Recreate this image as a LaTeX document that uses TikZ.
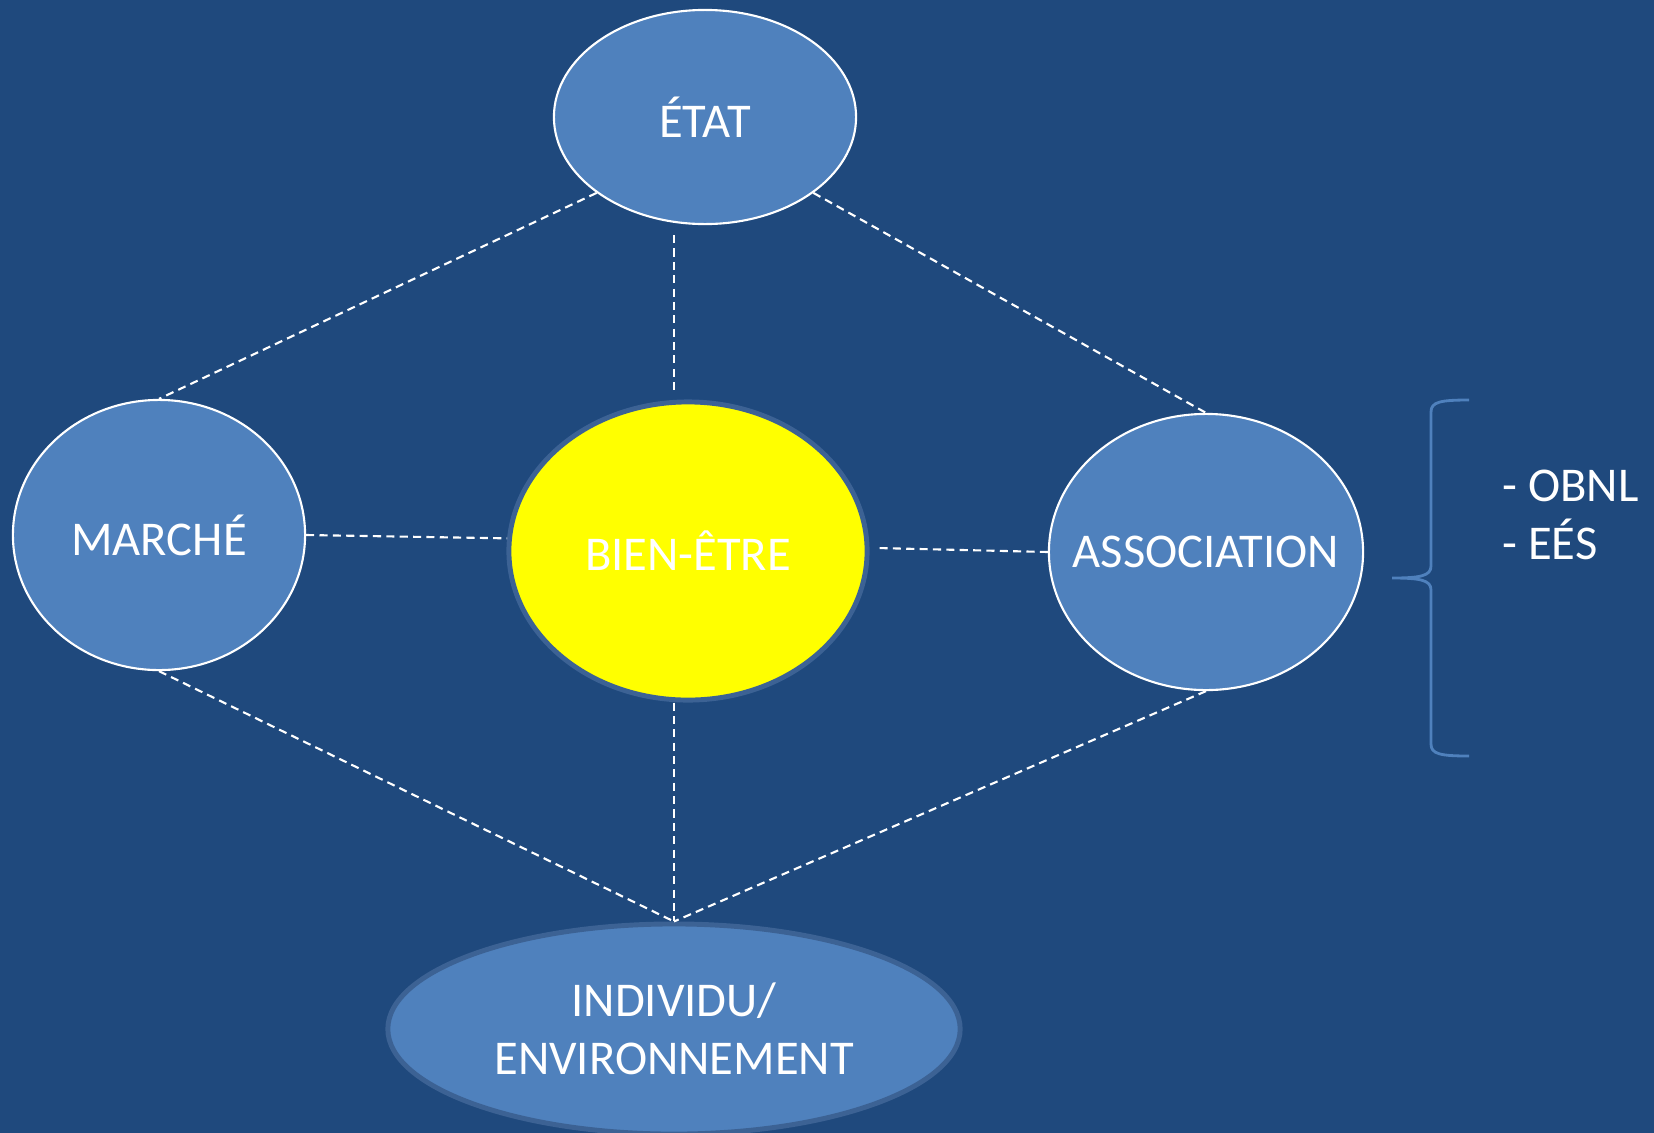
\documentclass[tikz,border=0pt]{standalone}
\usepackage{fontspec}
\setmainfont{Carlito}
\usepackage{xcolor}
\usepackage{tikz}
\usetikzlibrary{shapes.geometric,calc}
\definecolor{slide}{RGB}{31,73,125}
\definecolor{sectorblue}{RGB}{79,129,189}
\definecolor{rimblue}{RGB}{60,98,148}
\definecolor{sun}{RGB}{255,255,0}
\tikzset{
  sector/.style={ellipse, draw=white, line width=0.6pt, fill=sectorblue, inner sep=0pt, text=white, font=\fontsize{13.8}{16.4}\selectfont, align=center},
  core/.style={sector, draw=rimblue, line width=1.4pt}, % thicker soft rim
  link/.style={draw=white, line width=0.6pt, dash pattern=on 2.3pt off 1.5pt},
  bracket/.style={draw=sectorblue, line width=0.8pt}
}

\begin{document}
\begin{tikzpicture}[x=0.01cm, y=-0.01cm]
  % page
  \fill[slide] (0,0) rectangle (1654,1133);
  \useasboundingbox (0,0) rectangle (1654,1133);

  % Sectors (nodes)
  \node[sector, minimum width=3.02cm, minimum height=2.14cm] (etat) at (705,117) {ÉTAT};
  \node[sector, minimum width=2.92cm, minimum height=2.70cm] (marche) at (159,535) {MARCHÉ};
  \node[sector, minimum width=3.14cm, minimum height=2.76cm] (assoc) at (1206,552) {\makebox[0pt]{ASSOCIATION}};
  \node[core, fill=sun, minimum width=3.58cm, minimum height=2.98cm] (bien) at (688,551) {BIEN-ÊTRE};
  \node[core, minimum width=5.72cm, minimum height=2.10cm] (indiv) at (674,1029) {INDIVIDU/\\ENVIRONNEMENT};

  % Links between sectors
  \draw[link] (etat.215) -- (marche.north);
  \draw[link] (etat.325) -- (assoc.north);
  \draw[link, shorten <=0.1cm, shorten >=0.05cm] (indiv.north |- etat.south) -- (indiv.north |- bien.north);
  \draw[link] (marche.east) -- (bien.176);
  \draw[link, shorten <=0.1cm] (bien.1) -- (assoc.west);

  % Links down to the individual
  \draw[link] (marche.south) -- (indiv.north);
  \draw[link] (assoc.south) -- (indiv.north);
  \draw[link] (indiv.north |- bien.south) -- (indiv.north);

  % Brace and list
  \coordinate (tip) at (1392,578);
  \draw[bracket] (1469,400) .. controls (1440,400) and (1431,402) .. (1431,412)
    -- (1431,566) .. controls (1431,576) and (1420,578) .. (tip)
    .. controls (1420,578) and (1431,580) .. (1431,590)
    -- (1431,744) .. controls (1431,754) and (1440,756) .. (1469,756);
  \node[anchor=base west, text=white, font=\fontsize{13.8}{16.4}\selectfont] (obnl) at (1490,501) {- OBNL};
  \node[anchor=base west, text=white, font=\fontsize{13.8}{16.4}\selectfont] (ees) at (1490,559) {- EÉS};
\end{tikzpicture}
\end{document}
